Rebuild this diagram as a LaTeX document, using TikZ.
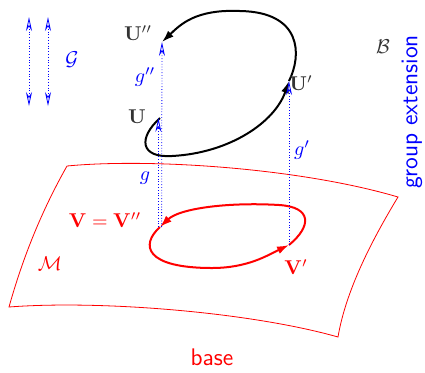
\documentclass[tikz,border=0pt]{standalone}
\usetikzlibrary{arrows.meta}
\begin{document}
\begin{tikzpicture}[x=0.5pt,y=-0.5pt,
fib/.style={blue,densely dotted,-{Stealth[open,length=7pt,width=3pt]}},
path/.style={line width=1pt,-{Latex[length=6pt,width=4pt]}},
lbl/.style={inner sep=1pt},
side/.style={font=\large\sffamily}
]
\useasboundingbox (0,0) rectangle (425,372);
% base manifold
\draw[red] (67,166) .. controls (150,158) and (300,168) .. (398,197)
  .. controls (372,240) and (346,290) .. (338,337)
  .. controls (250,312) and (100,300) .. (9,307)
  .. controls (25,250) and (45,205) .. (67,166);
% points
\coordinate (V) at (160,227);
\coordinate (Vp) at (289,245);
\coordinate (U) at (160,118);
\coordinate (Upp) at (162,42);
\coordinate (Up) at (289,81);
% loops
\draw[red,path] (V) .. controls (140,245) and (145,268) .. (212,268)
  .. controls (248,268) and (268,255) .. (Vp);
\draw[red,path] (Vp) .. controls (312,226) and (312,207) .. (279,205)
  .. controls (230,202) and (180,208) .. (V);
\draw[path] (U) .. controls (138,138) and (140,158) .. (172,156)
  .. controls (230,153) and (275,122) .. (Up);
\draw[path] (Up) .. controls (302,55) and (302,12) .. (240,11)
  .. controls (195,9) and (180,25) .. (Upp);
% fibres
\draw[fib] ([xshift=-0.8pt]V) -- ([xshift=-0.8pt]U);
\draw[fib] ([xshift=0.8pt]V) -- (Upp);
\draw[fib] (Vp) -- (Up);
\draw[blue,densely dotted,{Stealth[open,length=7pt,width=3pt]}-{Stealth[open,length=7pt,width=3pt]}] (29,17) -- (29,106);
\draw[blue,densely dotted,{Stealth[open,length=7pt,width=3pt]}-{Stealth[open,length=7pt,width=3pt]}] (48,17) -- (48,106);
% labels
\node[lbl,blue] (G) at (72,60) {$\mathcal{G}$};
\node[lbl,black!80] (lUpp) at (138,33) {$\mathbf{U}''$};
\node[lbl,black!80] (lU) at (137,117) {$\mathbf{U}$};
\node[lbl,black!80] (lUp) at (301,83) {$\mathbf{U}'$};
\node[lbl,black!80] (B) at (383,47) {$\mathcal{B}$};
\node[lbl,blue] (gpp) at (145,77) {$g''$};
\node[lbl,blue] (g) at (145,178) {$g$};
\node[lbl,blue] (gp) at (302,150) {$g'$};
\node[lbl,red] (lV) at (105,220) {$\mathbf{V}=\mathbf{V}''$};
\node[lbl,red] (lVp) at (296,267) {$\mathbf{V}'$};
\node[lbl,red] (M) at (50,264) {$\mathcal{M}$};
\node[side,red] (base) at (212,357) {base};
\node[side,blue,rotate=90] (ext) at (412,112) {group extension};
\end{tikzpicture}
\end{document}
